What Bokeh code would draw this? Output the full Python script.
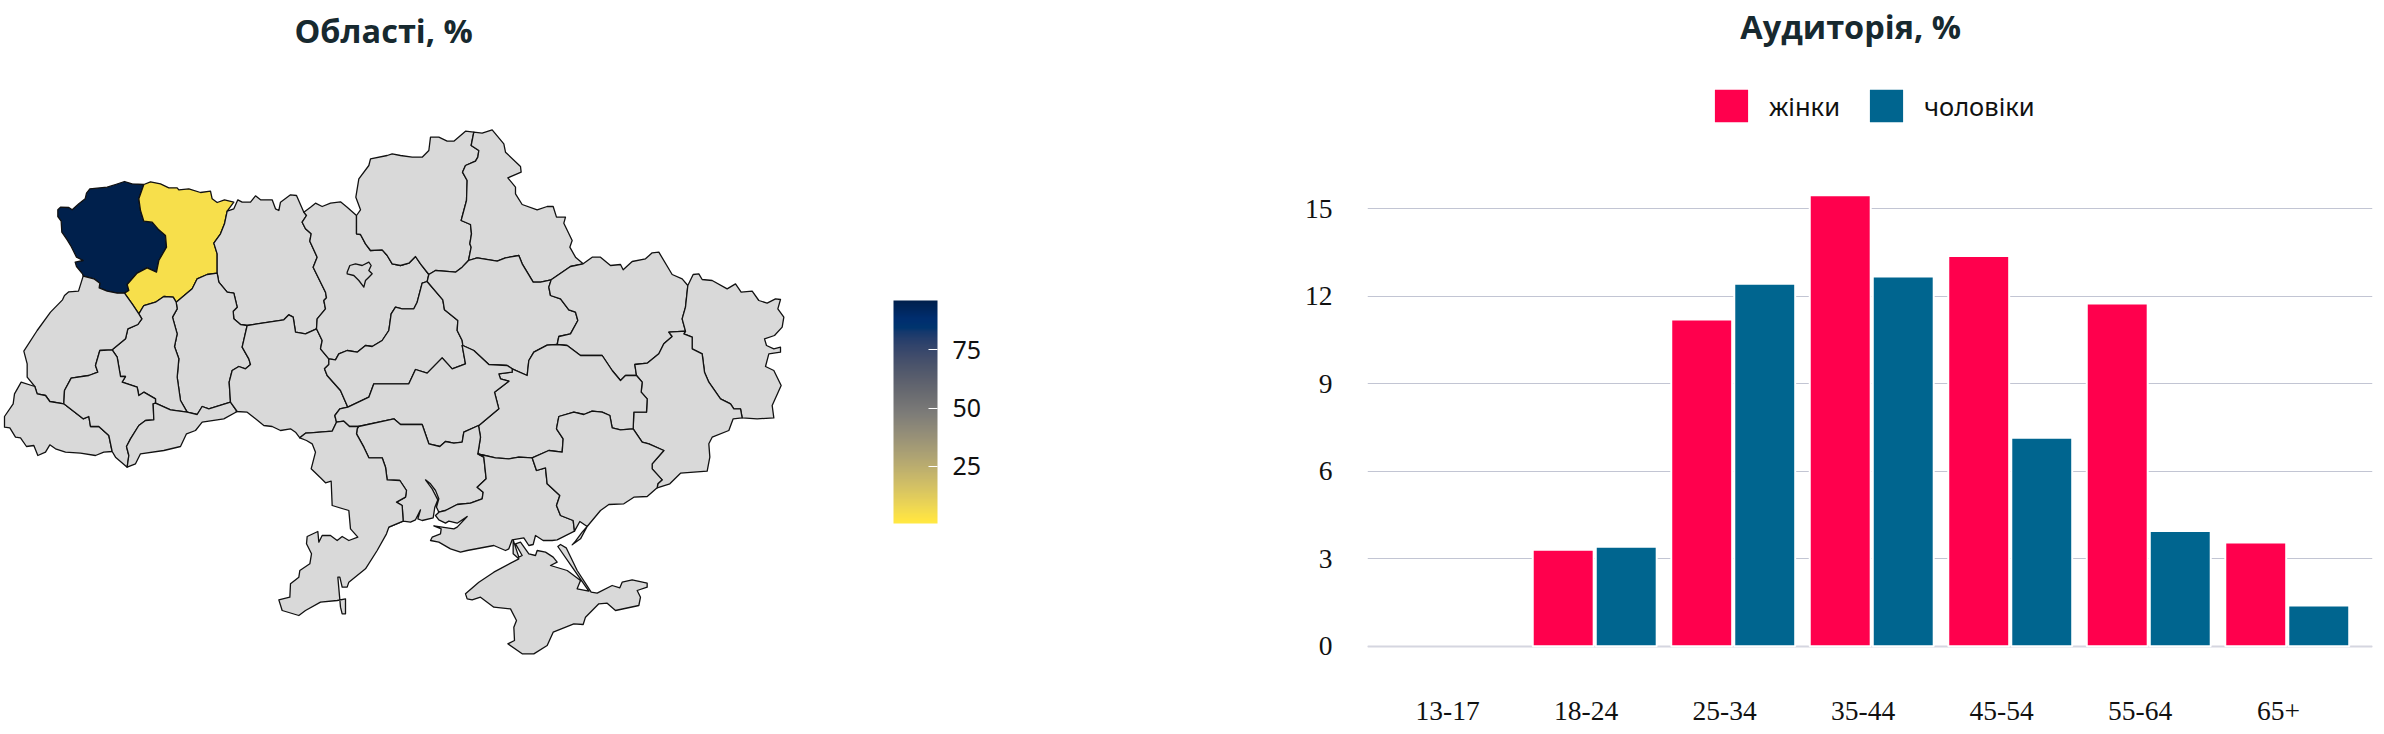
from bokeh.plotting import figure
from bokeh.layouts import row
from bokeh.models import (ColumnDataSource, Range1d, FixedTicker, LinearColorMapper,
                          ColorBar, Legend, LegendItem, Label)
from bokeh.palettes import Cividis256
from bokeh.embed import file_html
from bokeh.resources import INLINE

# ---------- chart values ----------
ages = ["13-17", "18-24", "25-34", "35-44", "45-54", "55-64", "65+"]
women = [float("nan"), 3.31, 11.2, 15.46, 13.38, 11.75, 3.56]
men = [float("nan"), 3.41, 12.43, 12.68, 7.15, 3.95, 1.4]
y_ticks = [0, 3, 6, 9, 12, 15]
scale_ticks = [25, 50, 75]
scale_low, scale_high = 0.6, 96.0
region_values = {"Волинська": 96.0, "Рівненська": 5.0}

# ---------- map outlines, in pixels of six crops ----------
CROPS = {"A": (0, 100), "B": (400, 100), "C": (0, 340), "D": (200, 400), "E": (400, 340), "F": (200, 300)}
def m(crop, pts):
    ox, oy = CROPS[crop]
    return [(ox + x / 3, oy + y / 3) for x, y in pts]

ARCS = {
 "volyn_out": m("A", [(430,252),(395,250),(372,243),(345,252),(320,260),(268,265),(258,278),(254,295),(235,310),(215,328),(205,321),(180,320),(172,328),(172,348),(182,362),(184,395),(200,418),(212,438),(228,470),(248,480),(224,485),(228,498),(246,520),(248,527)]),
 "volyn_lviv": m("A", [(248,527),(280,535),(298,548),(296,562),(320,572),(350,578),(372,578)]),
 "volyn_rivne": m("A", [(430,252),(415,295),(420,330),(430,362),(455,365),(475,388),(495,405),(498,440),(475,480),(468,515),(440,502),(410,518),(380,552),(385,570),(372,578)]),
 "rivne_north": m("A", [(430,252),(450,244),(480,250),(505,262),(530,262),(535,268),(565,265),(600,276),(630,272),(635,295),(650,306),(672,298),(700,305),(680,332)]),
 "zh_north": m("A", [(680,332),(700,325),(712,298),(725,305),(750,305),(765,286),(780,298),(815,298),(825,325),(835,330),(840,305),(870,283),(888,285),(910,335)]),
 "rivne_zh": m("A", [(680,332),(672,370),(660,400),(640,428),(650,460),(650,518)]),
 "rivne_khm": m("A", [(650,518),(620,522),(590,535),(575,565),(527,605)]),
 "rivne_ter": m("A", [(527,605),(518,590),(490,588),(465,605),(430,615),(415,640)]),
 "rivne_lviv": m("A", [(415,640),(395,610),(372,578)]),
 "lviv_ter": m("A", [(415,640),(424,655),(412,672),(382,685),(375,715),(335,748)]),
 "lviv_if": m("A", [(335,748)]) + m("C", [(298,30),(285,75),(292,95),(265,105),(212,113),(192,150),(190,190)]),
 "lviv_out": m("A", [(248,527),(234,572),(205,574),(192,585),(186,598),(150,635),(110,690),(70,752)]) + m("C", [(80,70),(80,110),(103,138)]),
 "lviv_zak": m("C", [(103,138),(110,160),(135,165),(148,183),(190,190)]),
 "zak_out": m("C", [(103,138),(62,125),(42,160),(38,190),(12,228),(12,260),(28,262),(45,290),(60,292),(78,318),(100,315),(112,345),(135,335),(148,313),(165,325),(195,335),(240,338),(285,345),(310,335),(335,333)]),
 "zak_if": m("C", [(190,190),(248,235),(265,228),(270,258),(295,258),(325,285),(335,333)]),
 "if_rom": m("C", [(335,333),(345,350),(380,380)]),
 "if_chv": m("C", [(380,380),(385,345),(378,318),(390,295),(415,255),(435,240),(460,238),(458,190),(465,188)]),
 "if_ter": m("A", [(335,748)]) + m("C", [(350,50),(360,108),(375,108),(365,125),(410,140),(415,165),(430,155),(465,175),(465,188)]),
 "chv_ter": m("C", [(465,188),(510,208),(560,215)]),
 "chv_khm": m("C", [(560,215),(590,222),(605,198),(625,205),(690,185)]),
 "chv_vin": m("C", [(690,185),(710,213)]),
 "chv_out": m("C", [(710,213),(670,235),(605,245),(585,270),(558,280),(540,318),(490,330),(420,340),(405,370),(380,380)]),
 "ter_khm": m("A", [(527,605),(530,625),(516,650),(530,700),(522,738),(535,775)]) + m("C", [(530,110),(540,180),(560,215)]),
 "khm_zh": m("A", [(650,518),(655,545),(680,575),(700,578),(710,620),(698,632),(700,655),(720,672),(740,675)]),
 "khm_vin": m("A", [(740,675),(725,740),(745,775)]) + m("C", [(750,72),(735,85),(715,78),(695,90),(686,125),(690,185)]),
 "zh_vin": m("A", [(740,675),(785,668),(850,658),(865,643),(878,650),(885,695),(915,700),(948,685)]),
 "zh_kyiv": m("A", [(910,335),(918,345),(905,365),(915,385),(932,400),(928,422),(950,470),(938,500),(975,575),(978,592),(970,600),(975,625),(950,655),(948,685)]),
 "kyiv_vin": m("A", [(948,685),(965,720),(960,745),(985,775)]),
 "kyiv_north": m("A", [(910,335),(930,320),(945,308),(965,318),(990,308),(1020,304),(1040,320),(1068,345)]),
 "kyiv_chern": m("A", [(1068,345),(1068,400),(1080,402),(1095,430),(1110,450),(1145,448),(1160,465),(1175,490),(1200,495)]) + m("B", [(25,488),(45,468),(60,490),(85,522)]),
 "kyiv_polt": m("B", [(85,522),(80,543)]),
 "kyiv_cherk": m("B", [(80,543),(65,548),(50,605)]) + m("F", [(640,25),(605,25),(585,20),(572,40),(565,90),(545,120),(515,138),(495,135),(470,155),(440,150),(415,160),(405,178),(385,175)]),
 "chern_out": m("A", [(1068,345),(1080,328),(1066,290),(1075,235),(1105,195),(1110,175),(1160,165),(1175,160),(1200,165)]) + m("B", [(35,170),(65,170),(85,150),(90,110),(115,110),(140,122),(160,122),(195,92),(220,95)]),
 "chern_sumy": m("B", [(220,95),(212,135),(235,150),(232,170),(225,182),(195,195),(186,215),(200,240),(198,300),(182,360),(210,372),(213,400),(208,430),(212,440),(204,480)]),
 "chern_polt": m("B", [(204,480),(185,500),(165,515),(130,512),(105,510),(85,522)]),
 "sumy_out": m("B", [(220,95),(245,98),(275,88),(310,130),(315,155),(360,198),(362,215),(322,232),(345,260),(345,280),(365,312),(410,328),(440,318),(458,318),(468,350),(495,350),(490,368),(515,420),(508,440),(525,470),(548,490)]),
 "sumy_polt": m("B", [(204,480),(230,472),(290,482),(315,472),(355,465),(365,490),(398,545),(420,545),(452,538)]),
 "sumy_kh": m("B", [(452,538),(510,498),(548,490)]),
 "kh_out": m("B", [(548,490),(575,470),(600,470),(630,495),(660,492),(668,508),(695,483),(735,475),(755,457),(775,455),(815,522),(845,535),(862,555)]),
 "lug_out": m("B", [(862,555),(878,522),(895,520),(905,537),(935,540),(980,565),(1005,550),(1022,575),(1055,572),(1075,600),(1100,608),(1125,595),(1140,597),(1132,625),(1150,650),(1145,680),(1122,705),(1092,715)]) + m("E", [(1098,15),(1120,25),(1140,20),(1140,35),(1105,40),(1095,78),(1120,90),(1142,135),(1115,195),(1120,232),(1070,235),(1025,232)]),
 "kh_lug": m("B", [(862,555),(855,620),(845,655),(855,692)]),
 "lug_don": m("B", [(855,692),(850,700),(875,710),(875,745)]) + m("E", [(905,40),(912,95),(925,125),(960,175),(990,190),(1000,205),(1020,205),(1025,232)]),
 "kh_don": m("B", [(855,692),(805,695),(815,708),(790,730),(775,760)]) + m("E", [(740,68),(703,72),(708,105)]),
 "kh_dni": m("E", [(708,105),(675,105),(660,120),(635,90),(605,45),(540,45),(500,15),(470,12)]),
 "polt_kh": m("B", [(452,538),(445,560),(450,585),(480,595),(505,628),(525,635),(532,660),(510,700),(475,708)]) + m("E", [(470,12)]),
 "polt_dni": m("E", [(470,12),(440,14),(400,35),(385,60),(380,105),(335,85)]),
 "polt_kir": m("E", [(187,15),(220,30),(265,72),(320,75),(335,85)]),
 "kir_dni": m("E", [(335,85),(335,95),(295,100),(300,115),(325,122),(282,155),(295,205),(235,255)]),
 "cherk_polt": m("B", [(80,543),(127,598),(132,628),(172,660),(170,690),(185,720)]) + m("E", [(187,15)]),
 "cherk_kir": m("F", [(785,135),(795,190),(755,205),(725,172),(680,218),(645,207),(625,250),(520,250),(505,290),(442,320)]),
 "vin_cher": m("F", [(385,175),(385,192),(372,205),(380,225),(420,270),(442,320)]),
 "vin_kir": m("F", [(442,320),(418,325),(403,345),(408,365)]),
 "ode_kir": m("F", [(408,365),(430,362),(447,378),(475,378)]),
 "vin_ode": m("F", [(408,365),(395,392),(330,397),(315,398),(298,412)]),
 "vin_mol": m("F", [(107,333),(140,335),(165,355),(190,375),(215,378),(240,390),(270,385),(285,395),(298,412)]),
 "ode_out": m("F", [(298,412)]) + m("D", [(318,120),(335,130),(345,155),(332,205),(360,232),(375,247),(392,242),(395,315),(445,330),(450,385),(472,410),(445,420),(425,408),(410,420),(390,405),(365,405),(355,425),(352,393),(320,408),(318,430),(333,460),(328,490),(298,510),(295,530),(270,550),(268,590),(235,598),(245,630),(295,645),(315,630),(360,605),(410,600),(435,595),(435,640),(425,640),(420,620),(412,530),(418,530),(425,560),(440,560),(445,545),(470,525),(495,505),(530,450),(558,400),(565,380)]),
 "ode_myk": m("D", [(565,380),(608,362),(605,315),(588,305),(615,290),(618,270),(598,240),(560,238),(555,200),(545,172),(505,172),(490,140),(468,100),(470,85),(474,78)]),
 "myk_kir": m("D", [(474,78),(580,55),(600,72),(665,72),(685,130),(718,138),(735,123),(760,128),(785,125),(790,95),(834,75)]),
 "myk_dni": m("D", [(834,75),(840,110),(832,160)]),
 "myk_kher": m("D", [(832,160),(850,170),(857,235),(830,260),(848,275),(845,295),(810,308),(770,312),(735,330),(715,335)]),
 "myk_coast": m("D", [(715,335),(708,320),(715,295),(705,270),(690,250),(675,238),(695,265),(712,298),(703,320),(698,352),(665,360),(652,355),(660,328),(645,358),(630,365),(608,362),(565,380)]),
 "dni_kher": m("E", [(240,342),(285,352),(325,355),(355,350),(395,352)]),
 "dni_zap": m("E", [(395,352),(445,330),(485,335),(488,295),(468,265),(475,228),(520,215),(550,222),(575,212),(605,215),(628,225),(635,262),(660,268),(698,265)]),
 "don_dni": m("E", [(698,265),(700,215),(738,215),(740,175),(722,155),(725,125),(708,105)]),
 "don_zap": m("E", [(770,442),(772,430),(785,418),(755,385),(755,370),(790,330),(745,310),(725,305),(698,265)]),
 "don_out": m("E", [(1025,232),(998,235),(985,270),(935,290),(925,310),(928,350),(920,392),(840,398),(808,430),(770,442)]),
 "zap_coast": m("D", [(1122,392),(1138,363),(1160,378),(1145,395),(1125,422),(1115,433),(1140,415),(1160,378),(1200,330),(1225,312),(1270,310),(1300,290),(1340,288),(1370,262)]),
 "kher_zap": m("E", [(395,352),(408,390),(435,382),(440,430),(478,465),(468,495),(480,525),(518,540)]) + m("D", [(1122,392)]),
 "kher_coast": m("D", [(1122,392),(1070,418),(1055,420),(1028,420),(1005,405),(998,432),(985,435),(970,412),(935,418),(925,445),(915,450),(880,435),(800,450),(780,455),(750,445),(715,425),(690,420),(695,410),(720,400),(722,385),(700,376),(760,385),(770,380),(800,348),(770,368),(745,362),(735,368),(715,358),(705,345),(715,335)]),
 "crimea": m("D", [(938,418),(938,460),(955,475),(880,515),(835,545),(795,580),(800,595),(815,598),(840,590),(880,620),(930,625),(948,660),(940,680),(942,720),(922,730),(965,760),(1000,760),(1040,735),(1058,695),(1120,670),(1148,672),(1155,650),(1195,610),(1220,608),(1245,630),(1315,615),(1320,590),(1310,570),(1340,560),(1340,548),(1295,538),(1265,545),(1258,562),(1235,555),(1190,578),(1172,575),(1130,510),(1097,442),(1080,432),(1072,438),(1115,500),(1165,572),(1130,565),(1140,540),(1100,510),(1050,495),(1070,485),(1058,470),(1035,455),(1010,450),(1005,465),(985,460),(960,425),(945,430),(965,465),(955,470)]),
 "kyiv_city": m("A", [(1040,515),(1048,495),(1065,490),(1085,495),(1105,485),(1112,495),(1105,510),(1115,520),(1105,530),(1095,540),(1090,560),(1075,540),(1060,525),(1040,520)]),
}

REGIONS = {
 "Волинська": ["volyn_out", "volyn_lviv", "volyn_rivne"],
 "Рівненська": ["rivne_north", "rivne_zh", "rivne_khm", "rivne_ter", "rivne_lviv", "volyn_rivne"],
 "Житомирська": ["zh_north", "zh_kyiv", "zh_vin", "khm_zh", "rivne_zh"],
 "Хмельницька": ["rivne_khm", "khm_zh", "khm_vin", "chv_khm", "ter_khm"],
 "Тернопільська": ["rivne_ter", "ter_khm", "chv_ter", "if_ter", "lviv_ter"],
 "Львівська": ["lviv_out", "lviv_zak", "lviv_if", "lviv_ter", "rivne_lviv", "volyn_lviv"],
 "Закарпатська": ["zak_out", "zak_if", "lviv_zak"],
 "Івано-Франківська": ["lviv_if", "if_ter", "if_chv", "if_rom", "zak_if"],
 "Чернівецька": ["if_chv", "chv_ter", "chv_khm", "chv_vin", "chv_out"],
 "Вінницька": ["chv_vin", "vin_mol", "vin_ode", "vin_kir", "vin_cher", "kyiv_vin", "zh_vin", "khm_vin"],
 "Київська": ["kyiv_north", "kyiv_chern", "kyiv_polt", "kyiv_cherk", "kyiv_vin", "zh_kyiv"],
 "Черкаська": ["kyiv_cherk", "cherk_polt", "cherk_kir", "vin_cher"],
 "Чернігівська": ["kyiv_chern", "chern_out", "chern_sumy", "chern_polt"],
 "Сумська": ["chern_sumy", "sumy_out", "sumy_kh", "sumy_polt"],
 "Полтавська": ["chern_polt", "sumy_polt", "polt_kh", "polt_dni", "polt_kir", "cherk_polt", "kyiv_polt"],
 "Харківська": ["sumy_kh", "kh_out", "kh_lug", "kh_don", "kh_dni", "polt_kh"],
 "Луганська": ["kh_lug", "lug_out", "lug_don"],
 "Донецька": ["lug_don", "don_out", "don_zap", "don_dni", "kh_don"],
 "Дніпропетровська": ["kh_dni", "don_dni", "dni_zap", "dni_kher", "myk_dni", "kir_dni", "polt_dni"],
 "Кіровоградська": ["polt_kir", "kir_dni", "myk_kir", "ode_kir", "vin_kir", "cherk_kir"],
 "Миколаївська": ["myk_kir", "myk_dni", "myk_kher", "myk_coast", "ode_myk"],
 "Одеська": ["vin_ode", "ode_kir", "ode_myk", "ode_out"],
 "Херсонська": ["myk_kher", "dni_kher", "kher_zap", "kher_coast"],
 "Запорізька": ["kher_zap", "dni_zap", "don_zap", "zap_coast"],
 "АР Крим": ["crimea"],
 "м. Київ": ["kyiv_city"],
}

def chain(names):
    def d(a, b):
        return (a[0]-b[0])**2 + (a[1]-b[1])**2
    arcs = [ARCS[n] for n in names]
    if len(arcs) == 1:
        return list(arcs[0])
    first = arcs[0]
    nxt = arcs[1]
    if min(d(first[0], nxt[0]), d(first[0], nxt[-1])) < min(d(first[-1], nxt[0]), d(first[-1], nxt[-1])):
        first = first[::-1]
    out = list(first)
    for a in arcs[1:]:
        out += a if d(out[-1], a[0]) <= d(out[-1], a[-1]) else a[::-1]
    return out

names = list(REGIONS)
polys = [chain(REGIONS[n]) for n in names]
src = ColumnDataSource(dict(
    name=names,
    xs=[[pt[0] for pt in p] for p in polys],
    ys=[[pt[1] for pt in p] for p in polys],
    value=[region_values.get(n, float("nan")) for n in names],
))

palette = list(reversed(Cividis256))
mapper = LinearColorMapper(palette=palette, low=scale_low, high=scale_high, nan_color="#d9d9d9")

# ---------- map figure ----------
MAP_W, H = 1300, 734
MAP_TOP = 56
mp = figure(width=MAP_W, height=H, x_range=Range1d(0, MAP_W), y_range=Range1d(H, MAP_TOP),
            x_axis_location=None, y_axis_location=None, toolbar_location=None,
            output_backend="svg", min_border_left=0, min_border_right=0, min_border_bottom=0,
            min_border_top=MAP_TOP, outline_line_color=None, frame_align=False)
mp.grid.visible = False
mp.title.text = "Області, %"
mp.title.text_font = "Open Sans"
mp.title.text_font_size = "32.5px"
mp.title.text_font_style = "bold"
mp.title.text_color = "#17292f"
mp.title.align = "left"
mp.title.offset = 294
mp.title.standoff = 7
mp.patches("xs", "ys", source=src, fill_color={"field": "value", "transform": mapper},
           line_color="#111111", line_width=1.3, line_join="round")

BAR_L, BAR_T, BAR_B = 897, 300, 523
cb = ColorBar(color_mapper=mapper, ticker=FixedTicker(ticks=scale_ticks), width=44, height=BAR_B - BAR_T,
              location=(BAR_L - 4, H - BAR_B), padding=0, margin=0, title=None,
              major_tick_line_color="white", major_tick_in=9, major_tick_out=0, minor_tick_line_color=None,
              bar_line_color=None, border_line_color=None, background_fill_color=None,
              major_label_text_font="Noto Sans", major_label_text_font_size="25px",
              major_label_text_color="#111111", label_standoff=15)
mp.add_layout(cb)
tick_ys = [BAR_B - (t - scale_low) / (scale_high - scale_low) * (BAR_B - BAR_T) for t in scale_ticks]
mp.segment(x0=[BAR_L] * 3, x1=[BAR_L + 9] * 3, y0=tick_ys, y1=tick_ys, line_color="white", line_width=1)

# ---------- bar figure ----------
BW = 1076
positions = list(range(len(ages)))
bp = figure(width=BW, height=H, x_range=Range1d(-0.578, 6.678),
            y_range=Range1d(-0.49, 22.14), toolbar_location=None, output_backend="svg",
            min_border_left=67, min_border_right=4, min_border_bottom=74, min_border_top=0,
            outline_line_color=None, frame_align=False)
bp.add_layout(Label(x=2.91, y=21.25, text="Аудиторія, %", text_font="Open Sans", text_font_size="32.5px",
                    text_font_style="bold", text_color="#17292f", text_align="center", text_baseline="middle"))

bp.xgrid.visible = False
bp.ygrid.ticker = FixedTicker(ticks=y_ticks)
bp.ygrid.grid_line_color = "#c2c5d3"
bp.ygrid.grid_line_width = 1
bp.hspan(y=[0], line_color="#d5d6e0", line_width=2)

bsrc = ColumnDataSource(dict(pos=positions,
                             xw=[i - 0.165 for i in positions], xm=[i + 0.29 for i in positions],
                             women=women, men=men))
r1 = bp.vbar(x="xw", top="women", width=0.44, source=bsrc,
             fill_color="#ff004d", line_color="white", line_width=2)
r2 = bp.vbar(x="xm", top="men", width=0.44, source=bsrc,
             fill_color="#00658f", line_color="white", line_width=2)

bp.xaxis.ticker = FixedTicker(ticks=positions)
bp.xaxis.major_label_overrides = {i: a for i, a in zip(positions, ages)}
bp.yaxis.ticker = FixedTicker(ticks=y_ticks)
bp.xaxis.axis_line_color = None
bp.yaxis.axis_line_color = None
for ax in (bp.xaxis, bp.yaxis):
    ax.major_tick_line_color = None
    ax.minor_tick_line_color = None
    ax.major_tick_out = 0
    ax.major_tick_in = 0
    ax.major_label_text_font = "Liberation Serif"
    ax.major_label_text_font_size = "27.5px"
    ax.major_label_text_color = "#111111"
bp.xaxis.major_label_standoff = 41
bp.yaxis.major_label_standoff = 35

legend = Legend(items=[LegendItem(label="жінки", renderers=[r1]), LegendItem(label="чоловіки", renderers=[r2])],
                orientation="horizontal", location=(342, 533), glyph_width=44, glyph_height=43,
                label_standoff=16, spacing=24, margin=0, padding=0, border_line_color=None,
                background_fill_color=None, label_text_font="Noto Sans", label_text_font_size="25.5px",
                label_text_color="#111111")
bp.add_layout(legend)

page = row(mp, bp, spacing=0, margin=0)
open("out.html", "w").write(file_html(page, INLINE))
